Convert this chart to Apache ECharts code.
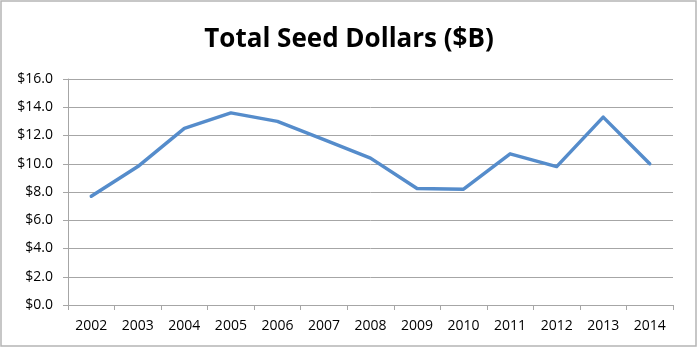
<!DOCTYPE html>
<html>
<head>
<meta charset="utf-8">
<script src="https://cdn.jsdelivr.net/npm/echarts@6/dist/echarts.min.js"></script>
<style>
html,body{margin:0;padding:0;background:#fff;}
#c{width:698px;height:348px;}
</style>
</head>
<body>
<div id="c"></div>
<script>
const years = ['2002','2003','2004','2005','2006','2007','2008','2009','2010','2011','2012','2013','2014'];
const seedDollars = [7.7, 9.8, 12.5, 13.6, 13.0, 11.7, 10.4, 8.25, 8.2, 10.7, 9.8, 13.3, 10.0];
const yTicks = [0, 2, 4, 6, 8, 10, 12, 14, 16];
const titleText = 'Total Seed Dollars ($B)';

const chart = echarts.init(document.getElementById('c'), null, {renderer: 'canvas'});
const font = "'Open Sans', 'Liberation Sans', sans-serif";
chart.setOption({
  animation: false,
  backgroundColor: '#fff',
  title: {
    text: titleText,
    left: 'center',
    top: 22,
    textStyle: {fontFamily: font, fontWeight: 'bold', fontSize: 26, color: '#000'}
  },
  grid: {left: 68, right: 25, top: 79, bottom: 43},
  xAxis: {
    type: 'category',
    data: years,
    boundaryGap: true,
    axisLine: {lineStyle: {color: '#a6a6a6', width: 1}},
    axisTick: {show: true, alignWithLabel: false, length: 5, lineStyle: {color: '#a6a6a6'}},
    axisLabel: {fontFamily: font, fontSize: 14, color: '#000', margin: 14}
  },
  yAxis: {
    type: 'value',
    min: yTicks[0],
    max: yTicks[yTicks.length - 1],
    interval: 2,
    axisLine: {show: true, lineStyle: {color: '#a6a6a6', width: 1}},
    axisTick: {show: true, length: 5, lineStyle: {color: '#a6a6a6'}},
    splitLine: {lineStyle: {color: '#a6a6a6', width: 1}},
    axisLabel: {
      fontFamily: font, fontSize: 14, color: '#000', margin: 15,
      formatter: v => '$' + v.toFixed(1)
    }
  },
  series: [{
    type: 'line',
    data: seedDollars,
    symbol: 'none',
    smooth: false,
    lineStyle: {color: '#558ccb', width: 3.5, cap: 'round', join: 'round'}
  }],
  graphic: [{
    type: 'rect',
    shape: {x: 1, y: 1, width: 695, height: 345},
    style: {fill: 'none', stroke: '#b5b5b5', lineWidth: 1.5},
    silent: true
  }]
});
</script>
</body>
</html>
